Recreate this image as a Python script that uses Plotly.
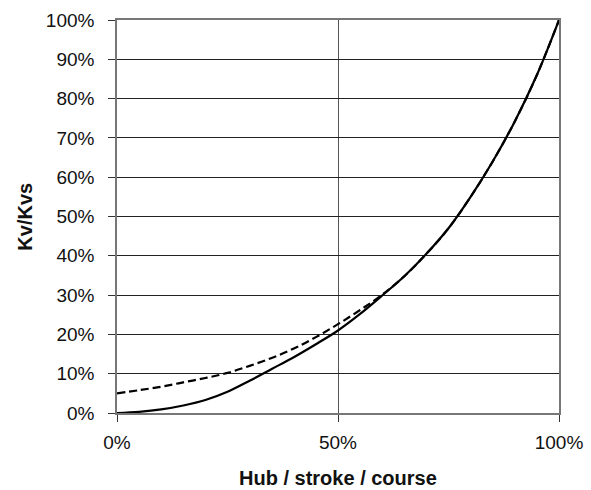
import plotly.graph_objects as go

# Stroke fraction (x) and Kv/Kvs (y)
solid_x = [0.00, 0.05, 0.10, 0.15, 0.20, 0.25, 0.30, 0.35, 0.40, 0.45, 0.50,
           0.55, 0.60, 0.65, 0.70, 0.75, 0.80, 0.85, 0.90, 0.95, 1.00]
solid_y = [0.000, 0.003, 0.009, 0.019, 0.033, 0.054, 0.082, 0.112, 0.142, 0.175, 0.210,
           0.252, 0.299, 0.348, 0.405, 0.470, 0.550, 0.640, 0.742, 0.860, 1.000]

dashed_x = [0.00, 0.05, 0.10, 0.15, 0.20, 0.25, 0.30, 0.35, 0.40, 0.45, 0.50,
            0.55, 0.60, 0.65, 0.70, 0.75, 0.80, 0.85, 0.90, 0.95, 1.00]
dashed_y = [0.050, 0.058, 0.067, 0.078, 0.089, 0.102, 0.120, 0.140, 0.164, 0.193, 0.226,
            0.262, 0.301, 0.348, 0.405, 0.470, 0.550, 0.640, 0.742, 0.860, 1.000]

x_ticks = [0, 0.5, 1.0]
y_ticks = [i / 10 for i in range(11)]
x_title = "Hub / stroke / course"
y_title = "Kv/Kvs"

FONT = "Liberation Sans, Arial, sans-serif"

fig = go.Figure()
fig.add_trace(go.Scatter(x=dashed_x, y=dashed_y, mode="lines",
                         line=dict(color="black", width=2.2, dash="8px,4px", shape="spline", smoothing=1),
                         showlegend=False, hoverinfo="skip"))
fig.add_trace(go.Scatter(x=solid_x, y=solid_y, mode="lines",
                         line=dict(color="black", width=2.2, shape="spline", smoothing=1),
                         showlegend=False))

fig.update_layout(
    width=591, height=490,
    margin=dict(l=117, r=32, t=20, b=77, autoexpand=False),
    paper_bgcolor="white", plot_bgcolor="white",
    font=dict(family=FONT, color="#111", size=19),
    xaxis=dict(range=[0, 1], tickvals=x_ticks, tickformat=".0%",
               showgrid=True, gridcolor="#555", gridwidth=1,
               showline=True, linecolor="#777", linewidth=1.5, mirror=True,
               ticks="outside", ticklen=7, tickcolor="#333", zeroline=False,
               ticklabelstandoff=4),
    yaxis=dict(range=[0, 1], tickvals=y_ticks, tickformat=".0%",
               showgrid=True, gridcolor="#222", gridwidth=1,
               showline=True, linecolor="#777", linewidth=1.5, mirror=True,
               ticks="outside", ticklen=7, tickcolor="#333", zeroline=False,
               ticklabelstandoff=10),
    annotations=[
        dict(text="<b>" + x_title + "</b>", xref="paper", yref="paper",
             x=0.5, y=-0.165, xanchor="center", yanchor="middle", showarrow=False,
             font=dict(family=FONT, size=20, color="#111")),
        dict(text="<b>" + y_title + "</b>", xref="paper", yref="paper",
             x=-0.21, y=0.5, xanchor="center", yanchor="middle", showarrow=False,
             textangle=-90, font=dict(family=FONT, size=20, color="#111")),
    ],
)

fig.write_html("out.html", config={"displayModeBar": False},
               post_script="document.body.style.margin='0';")
